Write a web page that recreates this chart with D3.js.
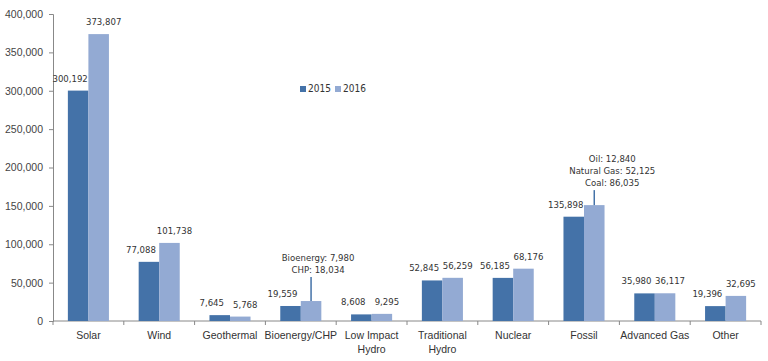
<!DOCTYPE html>
<html>
<head>
<meta charset="utf-8">
<script src="https://cdn.jsdelivr.net/npm/d3@7"></script>
<style>
  body { margin: 0; background: #fff; }
  svg text { font-family: "Liberation Sans", Arial, sans-serif; fill: #333; }
  svg text.val { font-family: "Liberation Sans Narrow", "DejaVu Sans Condensed", "Liberation Sans", sans-serif; }
</style>
</head>
<body>
<svg id="chart" width="768" height="361"></svg>
<script>
// ─── Data ────────────────────────────────────────────────────────────────────
const categories = [['Solar'], ['Wind'], ['Geothermal'], ['Bioenergy/CHP'], ['Low Impact', 'Hydro'],
  ['Traditional', 'Hydro'], ['Nuclear'], ['Fossil'], ['Advanced Gas'], ['Other']];
const series = ['2015', '2016'];
const values2015 = [300192, 77088, 7645, 19559, 8608, 52845, 56185, 135898, 35980, 19396];
const values2016 = [373807, 101738, 5768, 26014, 9295, 56259, 68176, 151000, 36117, 32695];
const yTicks = [0, 50000, 100000, 150000, 200000, 250000, 300000, 350000, 400000];
// 2016 bars whose value label is replaced by a breakdown callout
const callouts = [
  { cat: 3, lines: ['Bioenergy: 7,980', 'CHP: 18,034'], stem: 24, dx: 7 },
  { cat: 7, lines: ['Oil: 12,840', 'Natural Gas: 52,125', 'Coal: 86,035'], stem: 15, dx: 18 },
];
const colors = ['#4472A8', '#93AAD3'];

// ─── Setup ───────────────────────────────────────────────────────────────────
const svg = d3.select('#chart');
const M = { left: 53, right: 761, top: 14, bottom: 321 };

const x = d3.scaleBand().domain(d3.range(categories.length))
  .range([M.left, M.right]).paddingInner(0.42).paddingOuter(0.21);
const xs = d3.scaleBand().domain(series).range([0, x.bandwidth()]);
const y = d3.scaleLinear().domain([0, 400000]).range([M.bottom, M.top]);
const step = (M.right - M.left) / categories.length;

// ─── Axes ────────────────────────────────────────────────────────────────────
const yAxis = svg.append('g').attr('transform', `translate(${M.left},0)`)
  .call(d3.axisLeft(y).tickValues(yTicks).tickSize(4).tickFormat(d3.format(',')));
yAxis.selectAll('path, line').attr('stroke', '#888');
yAxis.selectAll('text').style('font-size', '10.5px').attr('x', -10).style('fill', '#444');

const xg = svg.append('g');
xg.append('line').attr('x1', M.left).attr('x2', M.right)
  .attr('y1', M.bottom).attr('y2', M.bottom).attr('stroke', '#888');
d3.range(categories.length + 1).forEach(i => {
  xg.append('line').attr('x1', M.left + i * step).attr('x2', M.left + i * step)
    .attr('y1', M.bottom).attr('y2', M.bottom + 4).attr('stroke', '#888');
});
categories.forEach((lines, i) => {
  const t = xg.append('text').attr('text-anchor', 'middle')
    .attr('x', x(i) + x.bandwidth() / 2).attr('y', 339).style('font-size', '10.5px');
  lines.forEach((l, j) => t.append('tspan').attr('x', x(i) + x.bandwidth() / 2)
    .attr('dy', j ? 14 : 0).text(l));
});

// ─── Bars ────────────────────────────────────────────────────────────────────
const fmt = d3.format(',');
[values2015, values2016].forEach((vals, s) => {
  const key = series[s];
  svg.append('g').selectAll('rect').data(vals).join('rect')
    .attr('x', (d, i) => x(i) + xs(key))
    .attr('width', xs.bandwidth())
    .attr('y', d => y(d))
    .attr('height', d => y(0) - y(d))
    .attr('fill', colors[s]);

  svg.append('g').selectAll('text')
    .data(vals.map((v, i) => ({ v, i })).filter(d => !(s === 1 && callouts.some(c => c.cat === d.i))))
    .join('text')
    .attr('class', 'val')
    .attr('text-anchor', 'middle')
    .attr('x', d => x(d.i) + xs(key) + xs.bandwidth() / 2 + (s ? 5 : -8))
    .attr('y', d => y(d.v) - 9)
    .style('font-size', '9.5px')
    .text(d => fmt(d.v));
});

// ─── Callouts ────────────────────────────────────────────────────────────────
callouts.forEach(c => {
  const cx = x(c.cat) + xs('2016') + xs.bandwidth() / 2;
  const top = y(values2016[c.cat]);
  svg.append('line').attr('x1', cx).attr('x2', cx)
    .attr('y1', top).attr('y2', top - c.stem).attr('stroke', '#4472A8').attr('stroke-width', 1.5);
  const n = c.lines.length;
  c.lines.forEach((l, j) => {
    svg.append('text').attr('class', 'val').attr('text-anchor', 'middle')
      .attr('x', cx + c.dx).attr('y', top - c.stem - 4 - (n - 1 - j) * 12)
      .style('font-size', '9.5px').text(l);
  });
});

// ─── Legend ──────────────────────────────────────────────────────────────────
const legend = svg.append('g').attr('transform', 'translate(300,92)');
series.forEach((s, i) => {
  const g = legend.append('g').attr('transform', `translate(${i * 35},0)`);
  g.append('rect').attr('x', 0).attr('y', -6).attr('width', 6).attr('height', 6).attr('fill', colors[i]);
  g.append('text').attr('class', 'val').attr('x', 8).attr('y', 0).style('font-size', '10px').text(s);
});
</script>
</body>
</html>
